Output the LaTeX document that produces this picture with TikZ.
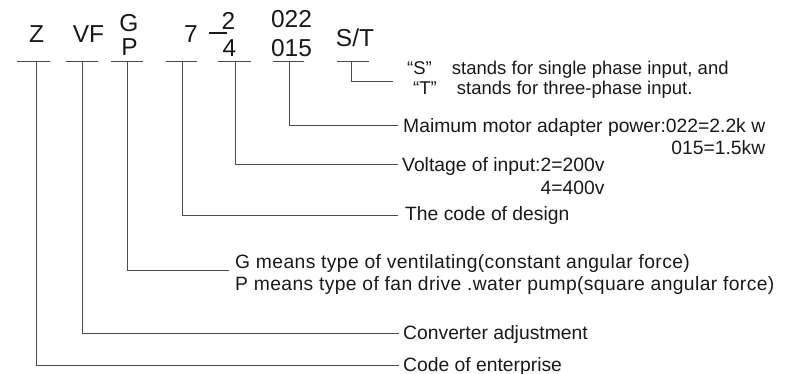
\documentclass[tikz,border=0pt]{standalone}
\usepackage{fontspec}
\setmainfont{Liberation Sans}
\newfontfamily\widesans[LetterSpace=2]{Liberation Sans}
\definecolor{txt}{RGB}{25,25,25}
\definecolor{lnc}{RGB}{75,75,75}
\begin{document}
\begin{tikzpicture}[x=1pt,y=-1pt,
  lbl/.style={inner sep=0pt, font=\fontsize{19.3}{21}\selectfont, text=txt},
  lblwide/.style={inner sep=0pt, font=\widesans\fontsize{19.3}{21}\selectfont, text=txt},
  lblsm/.style={inner sep=0pt, font=\fontsize{18.5}{20}\selectfont, text=txt},
  codetxt/.style={inner sep=0pt, font=\fontsize{24.5}{26}\selectfont, text=txt},
  ln/.style={draw=lnc, line width=1pt},
]
\useasboundingbox (0,0) rectangle (800,374);

% code letters
\node[codetxt, anchor=base] (cZ) at (36.5,43) {Z};
\node[codetxt, anchor=base] (cVF) at (88.5,43) {VF};
\node[codetxt, anchor=base] (cG) at (129,31.5) {G};
\node[codetxt, anchor=base] (cP) at (129.5,56) {P};
\node[codetxt, anchor=base] (c7) at (191,43) {7};
\node[codetxt, anchor=base] (c2) at (228.5,30) {2};
\node[codetxt, anchor=base] (c4) at (229.5,57) {4};
\node[codetxt, anchor=base] (c022) at (291.5,28) {022};
\node[codetxt, anchor=base] (c015) at (291.5,57) {015};
\node[codetxt, anchor=base] (cST) at (355,47) {S/T};
\draw[line width=1.8pt, draw=txt] (209,33) -- (227,33);

% underlines
\coordinate (uZ) at (36,62);
\coordinate (uVF) at (82,62);
\coordinate (uGP) at (127,62);
\coordinate (u7) at (182,62);
\coordinate (u4) at (235,62);
\coordinate (u015) at (289,62);
\coordinate (uST) at (351,62);
\draw[ln] (17,62) -- (50,62);
\draw[ln] (66,62) -- (98,62);
\draw[ln] (111,62) -- (143,62);
\draw[ln] (166,62) -- (197,62);
\draw[ln] (218,62) -- (251,62);
\draw[ln] (273,62) -- (304,62);
\draw[ln] (337,62) -- (369,62);

% line ends
\coordinate (eST) at (393,82);
\coordinate (e015) at (398,126);
\coordinate (e4) at (398,165);
\coordinate (e7) at (398,215);
\coordinate (eGP) at (229,270);
\coordinate (eVF) at (399,333);
\coordinate (eZ) at (399,365);

% explanations
\node[lblsm, anchor=base west] (tS) at (407,75) {“S”\hspace{15pt} stands for single phase input, and};
\node[lblsm, anchor=base west] (tT) at (413,95) {“T”\hspace{15pt} stands for three-phase input.};
\node[lbl, anchor=base west] (t015) at (403,133) {Maimum motor adapter power:022=2.2k w};
\node[lbl, anchor=base east] (t015b) at ([yshift=-22pt]t015.base east) {015=1.5kw};
\node[lbl, anchor=base west] (t4) at (402,172) {Voltage of input:2=200v};
\node[lbl, anchor=base east] (t4b) at ([yshift=-22pt]t4.base east) {4=400v};
\node[lbl, anchor=base west] (t7) at (405,220) {The code of design};
\node[lblwide, anchor=base west] (tG) at (235,268) {G means type of ventilating(constant angular force)};
\node[lblwide, anchor=base west] (tP) at (235,290) {P means type of fan drive .water pump(square angular force)};
\node[lbl, anchor=base west] (tVF) at (403,339) {Converter adjustment};
\node[lbl, anchor=base west] (tZ) at (403,371) {Code of enterprise};

% connectors
\draw[ln] (uST) |- (eST);
\draw[ln] (u015) |- (e015);
\draw[ln] (u4) |- (e4);
\draw[ln] (u7) |- (e7);
\draw[ln] (uGP) |- (eGP);
\draw[ln] (uVF) |- (eVF);
\draw[ln] (uZ) |- (eZ);
\end{tikzpicture}
\end{document}
